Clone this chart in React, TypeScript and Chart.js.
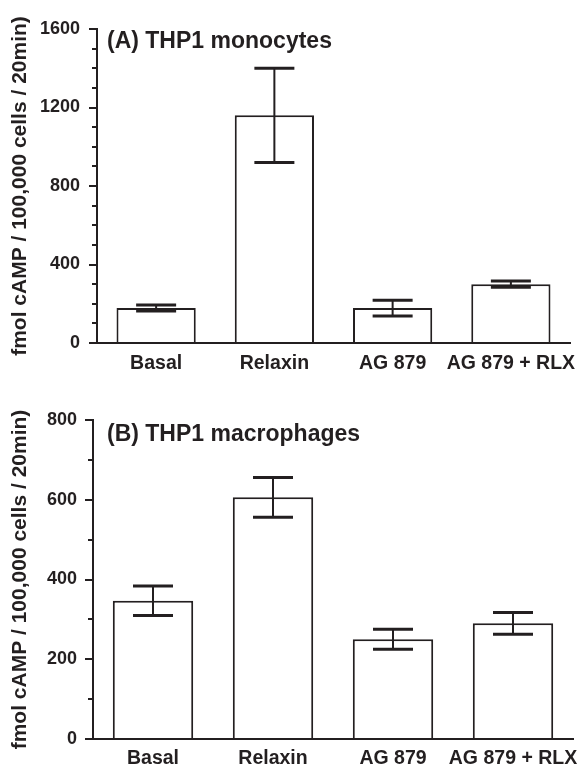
import React, { useEffect, useRef } from "react";
import { Chart, registerables } from "chart.js";

Chart.register(...registerables);

const categories = ["Basal", "Relaxin", "AG 879", "AG 879 + RLX"];

const monocyteMeans = [178, 1160, 178, 300];
const monocyteErrors = [15, 240, 40, 16];
const monocyteTicks = [0, 400, 800, 1200, 1600];
const monocyteMinorStep = 100;

const macrophageMeans = [347, 606, 250, 290];
const macrophageErrors = [37, 50, 25, 27];
const macrophageTicks = [0, 200, 400, 600, 800];
const macrophageMinorStep = 100;

const yTitle = "fmol cAMP / 100,000 cells / 20min)";
const titleA = "(A) THP1 monocytes";
const titleB = "(B) THP1 macrophages";

const INK = "#231f20";
const FONT = "'Liberation Sans', Arial, Helvetica, sans-serif";

type PanelProps = {
  means: number[];
  errors: number[];
  ticks: number[];
  minorStep: number;
  title: string;
  height: number;
  padTop: number;
  padRight: number;
  yWidth: number;
  xHeight: number;
  tickPad: number;
  xPad: number;
  titleDx: number;
  titleDy: number;
};

function Panel(p: PanelProps) {
  const ref = useRef<HTMLCanvasElement | null>(null);
  useEffect(() => {
    if (!ref.current) return;
    const max = p.ticks[p.ticks.length - 1];
    const errorBars = {
      id: "errorBars",
      afterDatasetsDraw(chart: any) {
        const ctx = chart.ctx;
        const meta = chart.getDatasetMeta(0);
        const ys = chart.scales.y;
        ctx.save();
        ctx.strokeStyle = INK;
        meta.data.forEach((el: any, i: number) => {
          const x = el.x;
          const top = ys.getPixelForValue(p.means[i] + p.errors[i]);
          const bot = ys.getPixelForValue(p.means[i] - p.errors[i]);
          ctx.lineWidth = 2;
          ctx.beginPath();
          ctx.moveTo(x, top);
          ctx.lineTo(x, bot);
          ctx.stroke();
          ctx.lineWidth = 3;
          ctx.beginPath();
          ctx.moveTo(x - 20, top);
          ctx.lineTo(x + 20, top);
          ctx.moveTo(x - 20, bot);
          ctx.lineTo(x + 20, bot);
          ctx.stroke();
        });
        ctx.restore();
      },
    };
    const panelTitle = {
      id: "panelTitle",
      afterDraw(chart: any) {
        const ctx = chart.ctx;
        const a = chart.chartArea;
        ctx.save();
        ctx.fillStyle = INK;
        ctx.font = `bold 23px ${FONT}`;
        ctx.textAlign = "left";
        ctx.textBaseline = "middle";
        ctx.fillText(p.title, a.left + p.titleDx, a.top + p.titleDy);
        ctx.restore();
      },
    };
    const chart = new Chart(ref.current, {
      type: "bar",
      data: {
        labels: categories,
        datasets: [
          {
            data: p.means,
            backgroundColor: "#ffffff",
            borderColor: INK,
            borderWidth: 2,
            borderSkipped: "bottom",
            barPercentage: 0.67,
            categoryPercentage: 1.0,
          },
        ],
      },
      options: {
        responsive: false,
        animation: false,
        devicePixelRatio: 1,
        layout: { padding: { left: 0, right: p.padRight, top: p.padTop, bottom: 0 } },
        plugins: { legend: { display: false }, tooltip: { enabled: false } },
        scales: {
          x: {
            border: { display: true, color: INK, width: 2 },
            grid: { display: true, drawOnChartArea: false, drawTicks: false },
            ticks: {
              color: INK,
              font: { family: FONT, size: 19.5, weight: "bold" },
              padding: p.xPad,
              maxRotation: 0,
              autoSkip: false,
            },
            afterFit: (s: any) => {
              s.height = p.xHeight;
              s.paddingLeft = 0;
              s.paddingRight = 0;
            },
          },
          y: {
            position: "left",
            weight: 1,
            min: 0,
            max,
            afterBuildTicks: (s: any) => {
              s.ticks = p.ticks.map((v) => ({ value: v }));
            },
            border: { display: true, color: INK, width: 2 },
            grid: { drawOnChartArea: false, drawTicks: true, tickLength: 8, color: INK, lineWidth: 2 },
            ticks: {
              color: INK,
              font: { family: FONT, size: 18, weight: "bold" },
              padding: p.tickPad,
              callback: (v: any) => String(v),
            },
            title: {
              display: true,
              text: yTitle,
              color: INK,
              font: { family: FONT, size: 21, weight: "bold" },
              padding: { top: 8, bottom: 0 },
            },
            afterFit: (s: any) => {
              s.width = p.yWidth;
            },
          },
          y2: {
            position: "left",
            weight: 0,
            min: 0,
            max,
            afterBuildTicks: (s: any) => {
              const t: { value: number }[] = [];
              for (let v = 0; v <= max; v += p.minorStep) t.push({ value: v });
              s.ticks = t;
            },
            border: { display: false },
            grid: { drawOnChartArea: false, drawTicks: true, tickLength: 5, color: INK, lineWidth: 2 },
            ticks: { display: false },
            afterFit: (s: any) => {
              s.width = 0;
            },
          },
        },
      },
      plugins: [errorBars, panelTitle],
    } as any);
    return () => chart.destroy();
  }, []);
  return <canvas ref={ref} width={579} height={p.height} style={{ display: "block", width: 579, height: p.height }} />;
}

export default function App() {
  return (
    <div style={{ position: "absolute", left: 0, top: 0, width: 579, height: 768, background: "#fff" }}>
      <Panel
        means={monocyteMeans}
        errors={monocyteErrors}
        ticks={monocyteTicks}
        minorStep={monocyteMinorStep}
        title={titleA}
        height={380}
        padTop={29}
        padRight={9}
        yWidth={97}
        xHeight={37}
        tickPad={9}
        xPad={9}
        titleDx={10}
        titleDy={13}
      />
      <Panel
        means={macrophageMeans}
        errors={macrophageErrors}
        ticks={macrophageTicks}
        minorStep={macrophageMinorStep}
        title={titleB}
        height={388}
        padTop={40}
        padRight={6}
        yWidth={93}
        xHeight={29}
        tickPad={8}
        xPad={8}
        titleDx={14}
        titleDy={15}
      />
    </div>
  );
}
